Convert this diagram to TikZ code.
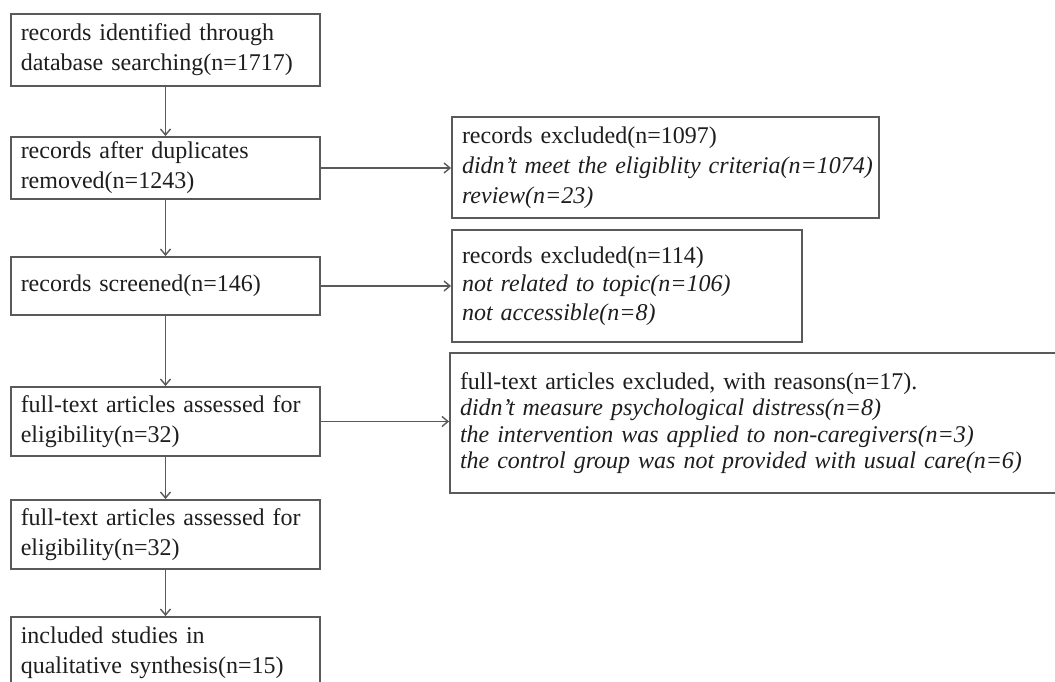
\documentclass[tikz,border=0pt]{standalone}
\usepackage{fontspec}
\setmainfont{Liberation Serif}[Ligatures=Common]
\usetikzlibrary{arrows.meta}
\definecolor{linec}{HTML}{5A5A5A}
\definecolor{txt}{HTML}{1E1E1E}
\begin{document}
\begin{tikzpicture}[x=1pt,y=-1pt,
  boxbase/.style={draw=linec, line width=1.9pt, inner xsep=10pt, inner ysep=0pt,
    align=left, text=txt, rectangle},
  lbox/.style={boxbase, minimum width=309.5pt, text width=289.5pt,
    font=\fontsize{24}{30}\selectfont},
  conn/.style={draw=linec, line width=1.4pt, -{Straight Barb[length=6pt,width=10pt]}}]
\useasboundingbox (0,0) rectangle (1055,682);
\clip (0,0) rectangle (1055,682);
\fill[white] (0,0) rectangle (1055,682);
% left column
\node[lbox, minimum height=72pt] (b1) at (165.5,50) {records identified through\\database searching(n=1717)};
\node[lbox, minimum height=62pt] (b2) at (165.5,168) {records after duplicates\\removed(n=1243)};
\node[lbox, minimum height=58pt] (b3) at (165.5,286) {records screened(n=146)};
\node[lbox, minimum height=69pt] (b4) at (165.5,421.5) {full-text articles assessed for\\eligibility(n=32)};
\node[lbox, minimum height=69pt] (b5) at (165.5,534.5) {full-text articles assessed for\\eligibility(n=32)};
\node[lbox, minimum height=72pt] (b6) at (165.5,653) {included studies in\\qualitative synthesis(n=15)};
% right column
\node[boxbase, minimum width=427pt, text width=407pt, minimum height=101pt,
  font=\fontsize{24}{30}\selectfont] (r1) at (665.5,167.5)
  {records excluded(n=1097)\\\mbox{\itshape didn't meet the eligiblity criteria(n=1074)}\\\itshape review(n=23)};
\node[boxbase, minimum width=350pt, text width=330pt, minimum height=112pt,
  font=\fontsize{24}{28.5}\selectfont] (r2) at (627,286)
  {records excluded(n=114)\\\itshape not related to topic(n=106)\\\itshape not accessible(n=8)};
\node[boxbase, minimum width=614pt, text width=594pt, minimum height=140pt,
  font=\fontsize{24}{26.5}\selectfont] (r3) at (757,423)
  {full-text articles excluded, with reasons(n=17).\\\itshape didn't measure psychological distress(n=8)\\\itshape the intervention was applied to non-caregivers(n=3)\\\itshape the control group was not provided with usual care(n=6)};
% connectors
\draw[conn] (b1) -- (b2);
\draw[conn] (b2) -- (b3);
\draw[conn] (b3) -- (b4);
\draw[conn] (b4) -- (b5);
\draw[conn] (b5) -- (b6);
\draw[conn] (b2.east) -- (b2.east -| r1.west);
\draw[conn] (b3.east) -- (b3.east -| r2.west);
\draw[conn] (b4.east) -- (b4.east -| r3.west);
\end{tikzpicture}
\end{document}
